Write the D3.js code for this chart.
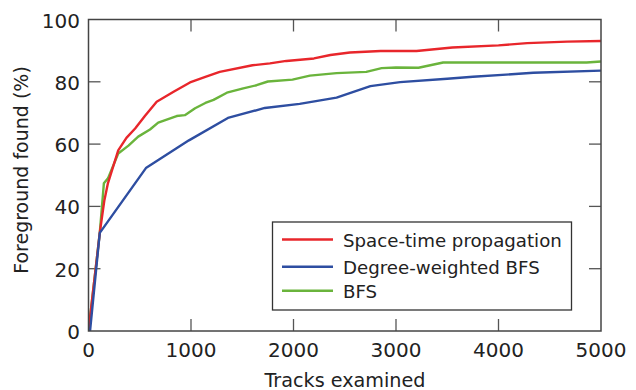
<!DOCTYPE html>
<html>
<head>
<meta charset="utf-8">
<script src="https://cdn.jsdelivr.net/npm/d3@7"></script>
<style>
    body { margin: 0; background: #fff; }
    text { font-family: "DejaVu Sans", "Liberation Sans", sans-serif; fill: #222; }
</style>
</head>
<body>
<svg id="chart" width="636" height="390"></svg>
<script>
// values: [tracks examined, foreground found %]
const spaceTime = [[0, 0], [110, 31.5], [155, 42], [190, 47.5], [290, 58], [370, 62], [455, 65], [550, 69],
    [665, 73.6], [830, 76.8], [990, 79.8], [1140, 81.6], [1280, 83.2], [1600, 85.3], [1770, 85.9], [1930, 86.7],
    [2200, 87.5], [2360, 88.6], [2550, 89.4], [2850, 89.9], [3200, 89.9], [3550, 91], [4000, 91.7], [4280, 92.4],
    [4670, 92.9], [5000, 93.1]];
const degreeBfs = [[15, 0], [110, 31.5], [560, 52.3], [980, 61.2], [1360, 68.4], [1720, 71.6], [2060, 72.9],
    [2420, 74.9], [2750, 78.6], [3040, 79.9], [3500, 81], [3750, 81.6], [4340, 82.9], [5000, 83.6]];
const bfs = [[0, 0], [110, 31.5], [150, 47.4], [190, 49], [290, 57], [390, 59.5], [485, 62.4], [600, 64.7],
    [680, 66.9], [860, 69], [940, 69.3], [1040, 71.5], [1140, 73.2], [1220, 74.2], [1350, 76.5], [1510, 77.9],
    [1640, 78.9], [1750, 80.1], [1990, 80.7], [2160, 82], [2420, 82.8], [2710, 83.2], [2860, 84.4], [3000, 84.6],
    [3220, 84.5], [3460, 86.2], [4860, 86.2], [5000, 86.5]];

const seriesNames = ["Space-time propagation", "Degree-weighted BFS", "BFS"];
const seriesColors = ["#e8262b", "#2e4ea1", "#6ab43c"];
const xTicks = [0, 1000, 2000, 3000, 4000, 5000];
const yTicks = [0, 20, 40, 60, 80, 100];

const plotL = 88.5, plotR = 601, plotT = 19.5, plotB = 331, tickLen = 12;
const svg = d3.select("#chart");
const xs = d3.scaleLinear().domain([0, 5000]).range([plotL, plotR]);
const ys = d3.scaleLinear().domain([0, 100]).range([plotB, plotT]);

svg.append("clipPath").attr("id", "plotClip").append("rect")
   .attr("x", plotL).attr("y", plotT).attr("width", plotR - plotL).attr("height", plotB - plotT);

// inward ticks on all four sides
const tickGrp = svg.append("g").attr("stroke", "#555").attr("stroke-width", 1.3);
tickGrp.selectAll(".xb").data(xTicks.slice(1, -1)).enter().append("line")
       .attr("x1", d => xs(d)).attr("x2", d => xs(d)).attr("y1", plotB).attr("y2", plotB - tickLen);
tickGrp.selectAll(".xt").data(xTicks.slice(1, -1)).enter().append("line")
       .attr("x1", d => xs(d)).attr("x2", d => xs(d)).attr("y1", plotT).attr("y2", plotT + tickLen);
tickGrp.selectAll(".yl").data(yTicks.slice(1, -1)).enter().append("line")
       .attr("y1", d => ys(d)).attr("y2", d => ys(d)).attr("x1", plotL).attr("x2", plotL + tickLen);
tickGrp.selectAll(".yr").data(yTicks.slice(1, -1)).enter().append("line")
       .attr("y1", d => ys(d)).attr("y2", d => ys(d)).attr("x1", plotR).attr("x2", plotR - tickLen);

// series lines
const line = d3.line().x(d => xs(d[0])).y(d => ys(d[1]));
const allSeries = [spaceTime, degreeBfs, bfs];
const lineGrp = svg.append("g").attr("clip-path", "url(#plotClip)");
[2, 0, 1].forEach(i => {
    lineGrp.append("path").attr("d", line(allSeries[i])).attr("fill", "none")
           .attr("stroke", seriesColors[i]).attr("stroke-width", 2.4).attr("stroke-linejoin", "round");
});

// frame
svg.append("rect").attr("x", plotL).attr("y", plotT).attr("width", plotR - plotL).attr("height", plotB - plotT)
   .attr("fill", "none").attr("stroke", "#444").attr("stroke-width", 1.5);

// tick labels
svg.append("g").selectAll("text").data(xTicks).enter().append("text")
   .attr("x", d => xs(d)).attr("y", 356.5).attr("text-anchor", "middle").attr("font-size", 20).text(d => d);
svg.append("g").selectAll("text").data(yTicks).enter().append("text")
   .attr("x", 80).attr("y", d => ys(d) + 8).attr("text-anchor", "end").attr("font-size", 20).text(d => d);

// axis titles
svg.append("text").attr("x", 345).attr("y", 386.5).attr("text-anchor", "middle")
   .attr("font-size", 19.2).text("Tracks examined");
svg.append("text").attr("transform", `translate(28, 170) rotate(-90)`)
   .attr("text-anchor", "middle").attr("font-size", 19).text("Foreground found (%)");

// legend
const legend = svg.append("g");
legend.append("rect").attr("x", 272.5).attr("y", 222).attr("width", 299).attr("height", 88)
      .attr("fill", "#fff").attr("stroke", "#333").attr("stroke-width", 1.3);
const rowY = [239.5, 266.7, 290.7];
seriesNames.forEach((name, i) => {
    legend.append("line").attr("x1", 282).attr("x2", 333).attr("y1", rowY[i]).attr("y2", rowY[i])
          .attr("stroke", seriesColors[i]).attr("stroke-width", 2.4);
    legend.append("text").attr("x", 343).attr("y", rowY[i] + 7.5).attr("font-size", 18.2).text(name);
});
</script>
</body>
</html>
